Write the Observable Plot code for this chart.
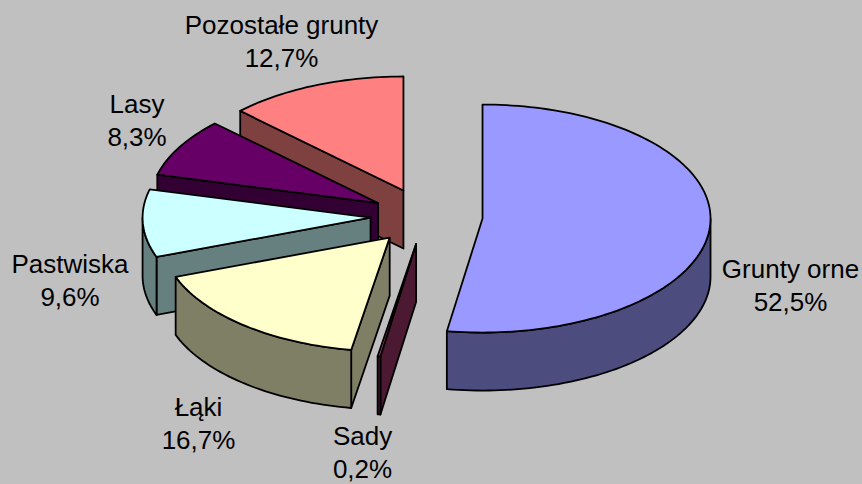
<!DOCTYPE html>
<html>
<head>
<meta charset="utf-8">
<script src="https://cdn.jsdelivr.net/npm/d3@7"></script>
<script src="https://cdn.jsdelivr.net/npm/@observablehq/plot@0.6"></script>
<style>
html,body{margin:0;padding:0;background:#c0c0c0;overflow:hidden}
svg{display:block}
</style>
</head>
<body>
<div id="chart"></div>
<script>
// Slices in drawing order of the pie: clockwise from 12 o'clock
const names = ["Grunty orne", "Sady", "Łąki", "Pastwiska", "Lasy", "Pozostałe grunty"];
const shares = [52.5, 0.2, 16.7, 9.6, 8.3, 12.7];
const shareLabels = ["52,5%", "0,2%", "16,7%", "9,6%", "8,3%", "12,7%"];
const topColors = ["#9999ff", "#993366", "#ffffcc", "#ccffff", "#660066", "#ff8080"];
const sideColors = ["#4c4c7f", "#4c1933", "#7f7f66", "#667f7f", "#330033", "#7f4040"];
const explosion = [57.5, 56, 55.5, 54.7, 54, 56];
const labelX = [790, 362, 198, 69.5, 136.5, 281];
const labelY = [283.5, 450.5, 421.5, 278.5, 118.5, 39.5];
// Back-to-front painting order (indexes into the arrays above)
const paintOrder = [5, 4, 3, 2, 1, 0];

// Pie geometry
const cx = 424.7, cy = 215.8, rx = 228, ry = 114, depth = 58;
const rad = d => d * Math.PI / 180;

let a = 0;
const slices = shares.map((s, i) => {
  const start = a; a += s * 3.6;
  const mid = (start + a) / 2, e = explosion[i];
  return {
    i, start, end: a,
    ox: cx + e * Math.sin(rad(mid)),
    oy: cy - e * 0.5 * Math.cos(rad(mid))
  };
});
const pt = (s, deg, dz = 0) => ({
  px: s.ox + rx * Math.sin(rad(deg)),
  py: s.oy - ry * Math.cos(rad(deg)) + dz
});
const arc = (s, from, to, dz = 0) => {
  const n = Math.max(2, Math.ceil((to - from) / 1.5));
  return d3.range(n + 1).map(k => pt(s, from + (to - from) * k / n, dz));
};

const face = (pts, fill) => Plot.line(pts, {
  x: "px", y: "py", curve: "linear-closed",
  fill, stroke: "black", strokeWidth: 1.8, strokeLinejoin: "round"
});

const marks = [];
for (const i of paintOrder) {
  const s = slices[i];
  const apex = {px: s.ox, py: s.oy};
  const apexLow = {px: s.ox, py: s.oy + depth};
  // radial walls: only those facing the viewer
  const walls = [];
  if (s.start >= 180) walls.push(s.start);
  if (s.end <= 180) walls.push(s.end);
  for (const deg of walls) {
    marks.push(face([apex, pt(s, deg), pt(s, deg, depth), apexLow], sideColors[i]));
  }
  // outer wall: only the part facing the viewer
  const from = Math.max(s.start, 90), to = Math.min(s.end, 270);
  if (to > from) {
    marks.push(face([...arc(s, from, to), ...arc(s, from, to, depth).reverse()], sideColors[i]));
  }
  // top
  marks.push(face([apex, ...arc(s, s.start, s.end)], topColors[i]));
}

const labels = names.map((n, i) => ({text: n + "\n" + shareLabels[i], lx: labelX[i], ly: labelY[i]}));
marks.push(Plot.text(labels, {
  x: "lx", y: "ly", text: "text", textAnchor: "middle", lineAnchor: "middle",
  fontFamily: "Liberation Sans, Arial, sans-serif", fontSize: 26, lineHeight: 1.27, fill: "black"
}));

const chart = Plot.plot({
  width: 862, height: 484,
  margin: 0,
  style: {background: "#c0c0c0"},
  x: {domain: [0, 862], range: [0, 862], axis: null},
  y: {domain: [0, 484], range: [0, 484], axis: null},
  marks
});
document.getElementById("chart").appendChild(chart);
</script>
</body>
</html>
